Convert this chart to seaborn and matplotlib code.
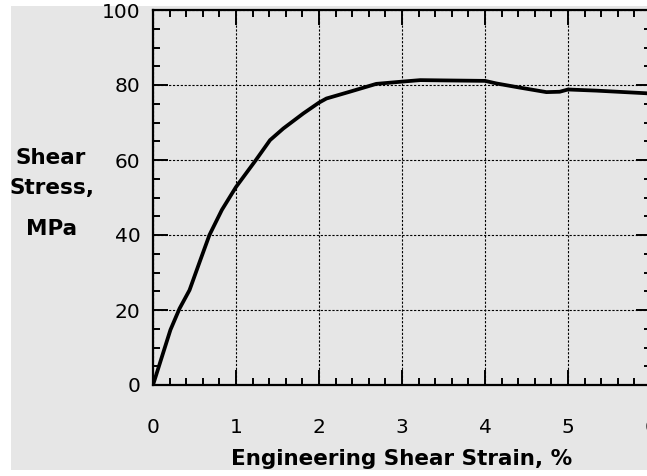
import numpy as np
import pandas as pd
import seaborn as sns
import matplotlib.pyplot as plt
from matplotlib.patches import Rectangle
from matplotlib.ticker import MultipleLocator

# values
strain = [0.0, 0.21, 0.32, 0.44, 0.57, 0.68, 0.83, 1.0, 1.24, 1.41, 1.57, 1.81,
          2.0, 2.09, 2.37, 2.69, 3.0, 3.22, 3.6, 4.0, 4.14, 4.42, 4.74, 4.9,
          5.0, 5.34, 5.94, 6.0]
stress = [0.0, 14.7, 20.4, 25.3, 33.3, 40.0, 46.7, 52.8, 60.0, 65.3, 68.4, 72.4,
          75.3, 76.4, 78.2, 80.3, 80.9, 81.3, 81.2, 81.1, 80.4, 79.3, 78.1, 78.2,
          78.8, 78.5, 77.8, 77.7]
x_ticks = [0, 1, 2, 3, 4, 5, 6]
y_ticks = [0, 20, 40, 60, 80, 100]

df = pd.DataFrame({"strain": strain, "stress": stress})

sns.set_theme(style="ticks")
plt.rcParams["font.family"] = ["DejaVu Sans"]

bg = "#e6e6e6"
W, H = 647, 476
fig = plt.figure(figsize=(W / 100, H / 100), dpi=100, facecolor="white")
fig.patches.append(Rectangle((11 / W, 6 / H), 1 - 11 / W, 1 - 12 / H,
                             transform=fig.transFigure, facecolor=bg,
                             edgecolor="none", zorder=-10))

# right side of the axes runs off the figure, like the reference
ax = fig.add_axes([153 / W, 1 - 385 / H, 498 / W, 375 / H])
ax.set_facecolor(bg)

sns.lineplot(data=df, x="strain", y="stress", ax=ax, color="black",
             linewidth=2.7, sort=False, legend=False)

ax.set_xlim(0, 6)
ax.set_ylim(0, 100)
ax.set_xticks(x_ticks)
ax.set_yticks(y_ticks)
ax.xaxis.set_minor_locator(MultipleLocator(0.2))
ax.yaxis.set_minor_locator(MultipleLocator(5))

ax.grid(True, which="major", color="black", linestyle=(0, (2, 1.5)), linewidth=0.8)
for s in ax.spines.values():
    s.set_linewidth(1.6)
    s.set_color("black")

ax.tick_params(which="both", direction="in", top=True, right=True,
               color="black", width=1.4)
ax.tick_params(which="major", length=11, labelsize=14.5, labelcolor="black")
ax.tick_params(which="minor", length=5)
ax.tick_params(axis="x", which="major", pad=24)
ax.tick_params(axis="y", which="major", pad=9)

ax.set_xlabel("")
ax.set_ylabel("")

fig.text(402 / W, 1 - 459 / H, "Engineering Shear Strain, %", ha="center",
         va="center", fontsize=15.5, fontweight="bold", color="black")
fig.text(51 / W, 1 - 158 / H, "Shear", ha="center", va="center",
         fontsize=15.5, fontweight="bold", color="black")
fig.text(52 / W, 1 - 188 / H, "Stress,", ha="center", va="center",
         fontsize=15.5, fontweight="bold", color="black")
fig.text(52 / W, 1 - 229 / H, "MPa", ha="center", va="center",
         fontsize=15.5, fontweight="bold", color="black")

fig.savefig("out.png", dpi=100, facecolor="white")
